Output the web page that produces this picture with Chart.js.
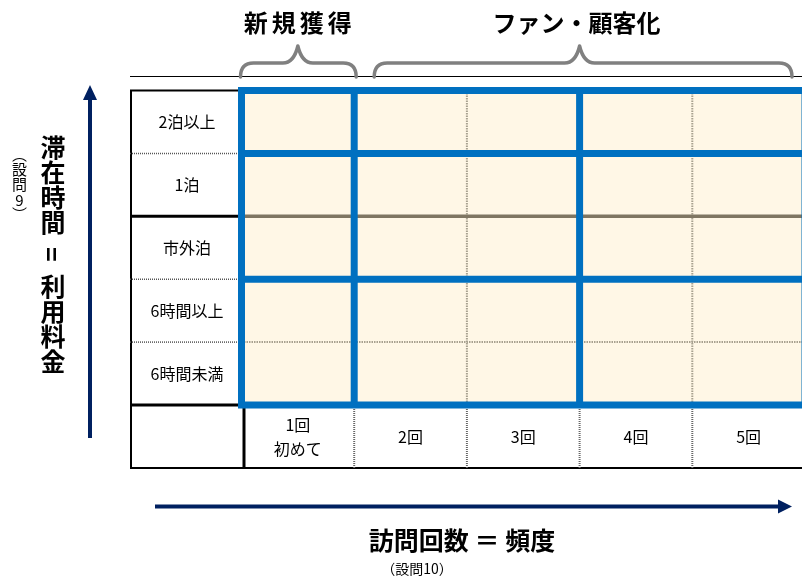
<!DOCTYPE html>
<html><head><meta charset="utf-8">
<script src="https://cdn.jsdelivr.net/npm/chart.js@4.4.1/dist/chart.umd.min.js"></script>
<style>
html,body{margin:0;padding:0;background:#fff;overflow:hidden;width:802px;height:579px}
#wrap{position:relative;width:812px;height:579px}
canvas{position:absolute;left:0;top:0}
.vt{position:absolute;writing-mode:vertical-rl;font-family:'Noto Sans CJK JP',sans-serif;color:#000;line-height:1;white-space:nowrap}
</style></head><body>
<div id="wrap">
<canvas id="c" width="812" height="579"></canvas>
<div class="vt" id="yTitle" style="left:40px;top:135px;font-size:25px;font-weight:bold"></div>
<div class="vt" id="yNote" style="left:12px;top:147px;font-size:15px;text-orientation:upright"></div>
</div>
<script>
// ---- data ----
const visitLabels = [['1回', '初めて'], '2回', '3回', '4回', '5回'];
const stayLabels = ['2泊以上', '1泊', '市外泊', '6時間以上', '6時間未満'];
const cellValues = [1, 1, 1, 1, 1];
const groupLabels = ['新規獲得', 'ファン・顧客化'];
const groupFirstCol = [0, 1];
const groupLastCol = [0, 4];
const yTitleParts = ['滞在時間', '=', '利用料金'];
const yNoteParts = ['（設問', '9', '）'];
const xTitle = '訪問回数 ＝ 頻度';
const xNote = '（設問10）';

// vertical titles as real text
document.getElementById('yTitle').innerHTML =
  yTitleParts[0] + '<span style="margin-inline:12px">' + yTitleParts[1] + '</span>' + yTitleParts[2];
document.getElementById('yNote').innerHTML =
  yNoteParts[0] + '<span style="text-combine-upright:all">' + yNoteParts[1] + '</span>' + yNoteParts[2];

const FONT = "'Noto Sans CJK JP', 'Noto Sans', sans-serif";
const CREAM = '#FFF7E6';
const BLUE = '#0070C0';
const NAVY = '#002060';

const overlay = {
  id: 'overlay',
  afterDraw(chart) {
    const ctx = chart.ctx;
    const xs = chart.scales.x, ys = chart.scales.y, yl = chart.scales.yl;
    const ca = chart.chartArea;
    const col = i => xs.getPixelForValue(i - 0.5);
    const row = k => ys.getPixelForValue(k);
    const L = yl.left, T = ca.top, B = ca.bottom, XB = xs.bottom;
    const line = (x1, y1, x2, y2, color, w, dash) => {
      ctx.save();
      ctx.beginPath();
      ctx.strokeStyle = color; ctx.lineWidth = w;
      ctx.setLineDash(dash || []);
      ctx.moveTo(x1, y1); ctx.lineTo(x2, y2); ctx.stroke();
      ctx.restore();
    };
    // label column frame
    line(L, T, col(0), T, '#000', 2);
    line(L + 1, T, L + 1, XB, '#000', 2);
    [4, 2, 1].forEach(k => line(L, row(k), col(0), row(k), '#555', 1.5, [1, 1]));
    line(L, row(3), col(0), row(3), '#000', 3);
    line(L, row(0), col(0), row(0), '#000', 3);
    line(L, XB - 1, 812, XB - 1, '#000', 2);
    line(col(0) + 2.5, B, col(0) + 2.5, XB, '#000', 3);
    for (let i = 1; i < visitLabels.length; i++) line(col(i), B, col(i), XB, '#666', 2, [1, 1]);
    // inner grid
    [2, 4].forEach(i => line(col(i), T, col(i), B, '#A8A190', 2, [1.5, 1]));
    line(col(0), row(1), col(5), row(1), '#A8A190', 2, [1.5, 1]);
    line(col(0), row(3), col(5), row(3), '#7F7662', 3.5);
    // blue frame and group lines
    [4, 2].forEach(k => line(col(0), row(k), col(5), row(k), BLUE, 7));
    [1, 3].forEach(i => line(col(i), T, col(i), B, BLUE, 7));
    ctx.save();
    ctx.strokeStyle = BLUE; ctx.lineWidth = 7;
    ctx.strokeRect(col(0), T, col(5) - col(0), B - T);
    ctx.restore();

    // header line
    line(L, 76.5, 812, 76.5, '#000', 1);
    // braces + group titles
    const brace = (x1, x2, px) => {
      const y0 = 77, ym = 63, yp = 46, r = 13;
      ctx.save();
      ctx.beginPath();
      ctx.strokeStyle = '#808080'; ctx.lineWidth = 3.5; ctx.lineJoin = 'round'; ctx.lineCap = 'round';
      ctx.moveTo(x1, y0);
      ctx.quadraticCurveTo(x1, ym, x1 + r, ym);
      ctx.lineTo(px - 15, ym);
      ctx.quadraticCurveTo(px - 4, ym, px, yp);
      ctx.quadraticCurveTo(px + 4, ym, px + 15, ym);
      ctx.lineTo(x2 - r, ym);
      ctx.quadraticCurveTo(x2, ym, x2, y0);
      ctx.stroke();
      ctx.restore();
    };
    ctx.save();
    ctx.fillStyle = '#000';
    ctx.textAlign = 'center'; ctx.textBaseline = 'middle';
    groupLabels.forEach((g, j) => {
      const a = col(groupFirstCol[j]), b = col(groupLastCol[j] + 1);
      const mid = (a + b) / 2;
      if (j === 0) brace(a - 1, b + 2, mid);
      else brace(a + 20, b - 13, col(3));
      ctx.font = 'bold 24px ' + FONT;
      ctx.letterSpacing = j === 0 ? '4px' : '0px';
      ctx.fillText(g, mid + (j === 0 ? 2 : -3), 23);
    });
    ctx.letterSpacing = '0px';
    ctx.font = 'bold 25px ' + FONT;
    ctx.fillText(xTitle, 462, 540);
    ctx.font = '14px ' + FONT;
    ctx.fillText(xNote, 417, 569);
    ctx.restore();

    // arrows
    ctx.save();
    ctx.fillStyle = NAVY;
    line(90, 98, 90, 438, NAVY, 4);
    ctx.beginPath(); ctx.moveTo(90, 85); ctx.lineTo(83, 100); ctx.lineTo(97, 100); ctx.closePath(); ctx.fill();
    line(155, 506.5, 780, 506.5, NAVY, 4);
    ctx.beginPath(); ctx.moveTo(792, 506.5); ctx.lineTo(778, 499.5); ctx.lineTo(778, 513.5); ctx.closePath(); ctx.fill();
    ctx.restore();
  }
};

const datasets = stayLabels.slice().reverse().map(label => ({
  label,
  data: cellValues,
  backgroundColor: CREAM,
  borderWidth: 0,
  barPercentage: 1,
  categoryPercentage: 1,
  yAxisID: 'y'
}));

new Chart(document.getElementById('c'), {
  type: 'bar',
  data: { labels: visitLabels, datasets },
  options: {
    responsive: false,
    animation: false,
    layout: { padding: { left: 130, top: 90.5, right: 7, bottom: 110 } },
    plugins: { legend: { display: false }, tooltip: { enabled: false }, title: { display: false } },
    scales: {
      x: {
        stacked: true,
        grid: { display: false, drawTicks: false },
        border: { display: false },
        ticks: {
          color: '#000', font: { family: FONT, size: 16, lineHeight: 1.5 },
          padding: 20, crossAlign: 'center', maxRotation: 0, autoSkip: false
        },
        afterFit: s => { s.height = 64; }
      },
      y: { stacked: true, display: false, min: 0, max: 5 },
      yl: {
        axis: 'y', type: 'category', labels: stayLabels, position: 'left', offset: true,
        grid: { display: false, drawTicks: false },
        border: { display: false },
        ticks: { color: '#000', font: { family: FONT, size: 16 }, padding: 18, crossAlign: 'center' },
        afterFit: s => { s.width = 111.5; }
      }
    }
  },
  plugins: [overlay]
});
</script>
</body></html>
